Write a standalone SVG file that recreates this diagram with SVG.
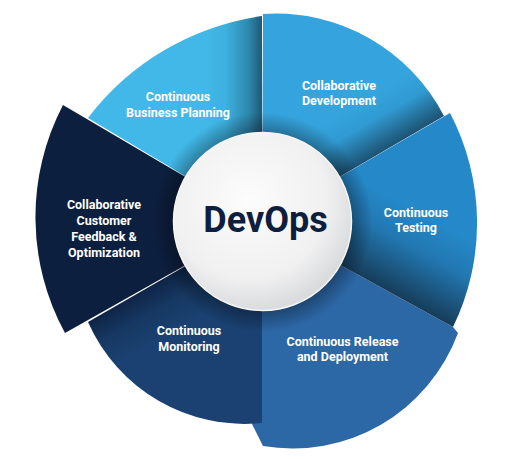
<svg xmlns="http://www.w3.org/2000/svg" width="512" height="459" viewBox="0 0 512 459">
<defs>
<style>
.lbl{font-family:Roboto,"Liberation Sans",Arial,sans-serif;font-weight:700;font-size:12.5px;fill:#ffffff;text-anchor:middle}
.title{font-family:Roboto,"Liberation Sans",Arial,sans-serif;font-weight:700;font-size:36px;fill:#0e1e3f;text-anchor:middle}
</style>
<linearGradient id="gPlan" gradientUnits="userSpaceOnUse" x1="205" y1="0" x2="263" y2="0">
<stop offset="0" stop-color="#41b8e7"/><stop offset="0.35" stop-color="#3db1e0"/><stop offset="0.75" stop-color="#2e87ad"/><stop offset="1" stop-color="#1d5670"/>
</linearGradient>
<linearGradient id="gDev" gradientUnits="userSpaceOnUse" x1="325.3" y1="121.5" x2="354" y2="171">
<stop offset="0" stop-color="#35a4de"/><stop offset="0.4" stop-color="#309ad2"/><stop offset="1" stop-color="#1b4d6b"/>
</linearGradient>
<linearGradient id="gTest" gradientUnits="userSpaceOnUse" x1="417.6" y1="210.5" x2="375.6" y2="286.8">
<stop offset="0" stop-color="#2589c9"/><stop offset="0.4" stop-color="#2277b0"/><stop offset="1" stop-color="#163a55"/>
</linearGradient>
<linearGradient id="gMon" gradientUnits="userSpaceOnUse" x1="199.9" y1="315.4" x2="174" y2="270">
<stop offset="0" stop-color="#1a4171"/><stop offset="0.5" stop-color="#163862"/><stop offset="1" stop-color="#0e2245"/>
</linearGradient>
<radialGradient id="gRing" gradientUnits="userSpaceOnUse" cx="262.5" cy="222" r="110">
<stop offset="0.79" stop-color="#000" stop-opacity="0.35"/><stop offset="1" stop-color="#000" stop-opacity="0"/>
</radialGradient>
<radialGradient id="gHub" cx="0.42" cy="0.38" r="0.62">
<stop offset="0" stop-color="#fcfcfc"/><stop offset="0.72" stop-color="#f0f0f1"/><stop offset="1" stop-color="#dadbdd"/>
</radialGradient>
</defs>
<rect width="512" height="459" fill="#ffffff"/>
<g id="feedback">
<path d="M262,222 L63,105 A242,242 0 0 0 65,333 Z" fill="#0d1f3e"/>
<text class="lbl" x="104" y="209.3">Collaborative</text>
<text class="lbl" x="104" y="225">Customer</text>
<text class="lbl" x="104" y="240.7">Feedback &amp;</text>
<text class="lbl" x="104" y="256.5">Optimization</text>
</g>
<g id="release">
<path d="M262,222 L453,327 L458,333 A176.5,176.5 0 0 1 263,446 L252,424 Z" fill="#2c67a6"/>
<text class="lbl" x="342.5" y="345.7">Continuous Release</text>
<text class="lbl" x="342.5" y="361.3">and Deployment</text>
</g>
<g id="planning">
<path d="M262,222 L88,118 A266,266 0 0 1 262,16 Z" fill="url(#gPlan)"/>
<text class="lbl" x="178" y="101">Continuous</text>
<text class="lbl" x="178" y="116.7">Business Planning</text>
</g>
<g id="development">
<path d="M262,222 L263,14 A189,189 0 0 1 444,116 Z" fill="url(#gDev)"/>
<text class="lbl" x="339" y="89.5">Collaborative</text>
<text class="lbl" x="339" y="105">Development</text>
</g>
<g id="testing">
<path d="M262,222 L450,113 A237,237 0 0 1 453,327 Z" fill="url(#gTest)"/>
<text class="lbl" x="416" y="216.7">Continuous</text>
<text class="lbl" x="416" y="232.3">Testing</text>
</g>
<g id="monitoring">
<path d="M262,222 L262,423 A171,171 0 0 1 88,322 Z" fill="url(#gMon)"/>
<text class="lbl" x="189" y="335">Continuous</text>
<text class="lbl" x="189" y="350.7">Monitoring</text>
</g>
<g id="hub">
<circle cx="262.5" cy="222" r="110" fill="url(#gRing)"/>
<circle cx="262.5" cy="221.5" r="89" fill="url(#gHub)" stroke="#f6f6f6" stroke-width="1.5"/>
<text class="title" x="265.5" y="232">DevOps</text>
</g>
</svg>
